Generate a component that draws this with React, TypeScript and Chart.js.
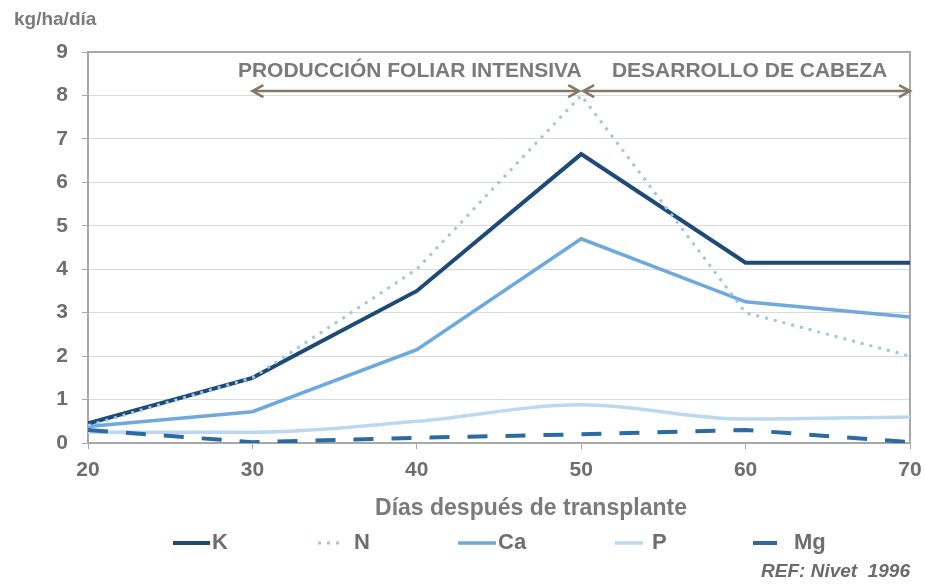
import React, { useEffect, useRef } from "react";
import { Chart, registerables } from "chart.js";

Chart.register(...registerables);

const days = [20, 30, 40, 50, 60, 70];
const kValues = [0.45, 1.5, 3.5, 6.65, 4.15, 4.15];
const nValues = [0.4, 1.5, 4.0, 8.0, 3.0, 2.0];
const caValues = [0.38, 0.72, 2.15, 4.7, 3.25, 2.9];
const pValues = [0.25, 0.25, 0.5, 0.88, 0.55, 0.6];
const mgValues = [0.3, 0.02, 0.12, 0.2, 0.3, 0.02];
const yTicks = [0, 1, 2, 3, 4, 5, 6, 7, 8, 9];
const seriesNames = ["K", "N", "Ca", "P", "Mg"];
const phases = [
  { label: "PRODUCCIÓN FOLIAR INTENSIVA", from: 30, to: 50 },
  { label: "DESARROLLO DE CABEZA", from: 50, to: 70 },
];
const yUnit = "kg/ha/día";
const xTitle = "Días después de transplante";
const refText = "REF: Nivet  1996";

const FONT = "'Liberation Sans', Arial, sans-serif";
const GREY = "#7a7a7a";

const toPts = (vals: number[]) => vals.map((v, i) => ({ x: days[i], y: v }));

const extrasPlugin = {
  id: "extras",
  beforeDatasetsDraw(chart: any) {
    const { ctx, chartArea: a } = chart;
    ctx.save();
    ctx.strokeStyle = "#a8a8a8";
    ctx.lineWidth = 2;
    ctx.strokeRect(a.left, a.top, a.right - a.left, a.bottom - a.top);
    ctx.restore();
  },
  afterDraw(chart: any) {
    const { ctx } = chart;
    const xs = chart.scales.x;
    const ys = chart.scales.y;
    ctx.save();
    // unit label
    ctx.fillStyle = GREY;
    ctx.font = `bold 19px ${FONT}`;
    ctx.textAlign = "left";
    ctx.textBaseline = "middle";
    ctx.fillText(yUnit, 14, 20);

    // phase annotations
    const arrowY = ys.getPixelForValue(8.1);
    const textY = ys.getPixelForValue(8.56);
    phases.forEach((ph, idx) => {
      const x1 = xs.getPixelForValue(ph.from) + (idx === 1 ? 2 : 0);
      const x2 = xs.getPixelForValue(ph.to) - (idx === 0 ? 2 : 0);
      ctx.strokeStyle = "#857868";
      ctx.lineWidth = 2.5;
      ctx.beginPath();
      ctx.moveTo(x1 + 2, arrowY);
      ctx.lineTo(x2 - 2, arrowY);
      ctx.stroke();
      const head = (x: number, dir: number) => {
        ctx.beginPath();
        ctx.moveTo(x + dir * 11, arrowY - 6);
        ctx.lineTo(x, arrowY);
        ctx.lineTo(x + dir * 11, arrowY + 6);
        ctx.lineWidth = 2.5;
        ctx.stroke();
      };
      head(x1, 1);
      head(x2, -1);
      ctx.fillStyle = GREY;
      ctx.font = `bold 21px ${FONT}`;
      ctx.textAlign = "center";
      ctx.textBaseline = "middle";
      const cx = (x1 + x2) / 2 + (idx === 0 ? -6 : 3);
      ctx.fillText(ph.label, cx, textY);
    });

    // x title
    ctx.fillStyle = GREY;
    ctx.font = `bold 23px ${FONT}`;
    ctx.textAlign = "center";
    ctx.textBaseline = "middle";
    ctx.fillText(xTitle, 531, 509);

    // legend
    const legendPos = [
      { x: 173, w: 37, tx: 212 },
      { x: 318, w: 26, tx: 354 },
      { x: 458, w: 38, tx: 498 },
      { x: 615, w: 28, tx: 652 },
      { x: 753, w: 24, tx: 794 },
    ];
    const ly = 543;
    chart.data.datasets.forEach((ds: any, i: number) => {
      const p = legendPos[i];
      ctx.save();
      ctx.strokeStyle = ds.borderColor;
      ctx.lineWidth = ds.borderWidth;
      ctx.setLineDash(i === 4 ? [] : ds.borderDash || []);
      ctx.beginPath();
      ctx.moveTo(p.x, ly);
      ctx.lineTo(p.x + p.w, ly);
      ctx.stroke();
      ctx.restore();
      ctx.fillStyle = "#6e6e6e";
      ctx.font = `bold 22px ${FONT}`;
      ctx.textAlign = "left";
      ctx.textBaseline = "middle";
      ctx.fillText(seriesNames[i], p.tx, ly);
    });

    // reference
    ctx.fillStyle = "#6a6a6a";
    ctx.font = `italic bold 19px ${FONT}`;
    ctx.textAlign = "right";
    ctx.textBaseline = "middle";
    ctx.fillText(refText, 910, 572);
    ctx.restore();
  },
};

export default function App() {
  const ref = useRef<HTMLCanvasElement | null>(null);
  useEffect(() => {
    document.body.style.margin = "0";
    const canvas = ref.current!;
    const chart = new Chart(canvas, {
      type: "line",
      data: {
        datasets: [
          {
            label: seriesNames[0],
            data: toPts(kValues),
            borderColor: "#1d4a77",
            borderWidth: 4,
            pointRadius: 0,
            order: 2,
          },
          {
            label: seriesNames[1],
            data: toPts(nValues),
            borderColor: "#9fc5e8",
            borderWidth: 3,
            borderDash: [3, 6],
            pointRadius: 0,
            order: 1,
          },
          {
            label: seriesNames[2],
            data: toPts(caValues),
            borderColor: "#6ea9dd",
            borderWidth: 3.5,
            pointRadius: 0,
            order: 3,
          },
          {
            label: seriesNames[3],
            data: toPts(pValues),
            borderColor: "#bcd8f0",
            borderWidth: 3.5,
            pointRadius: 0,
            cubicInterpolationMode: "monotone",
            order: 4,
          },
          {
            label: seriesNames[4],
            data: toPts(mgValues),
            borderColor: "#2c6aa3",
            borderWidth: 4,
            borderDash: [20, 18],
            pointRadius: 0,
            order: 0,
          },
        ] as any,
      },
      options: {
        animation: false,
        responsive: false,
        maintainAspectRatio: false,
        layout: { padding: { top: 52, right: 15, left: 0, bottom: 0 } },
        plugins: {
          legend: { display: false },
          tooltip: { enabled: false },
          title: { display: false },
        },
        scales: {
          x: {
            type: "linear",
            min: 20,
            max: 70,
            afterFit: (s: any) => {
              s.height = 141;
              s.paddingLeft = 0;
              s.paddingRight = 0;
            },
            afterBuildTicks: (s: any) => {
              s.ticks = days.map((d) => ({ value: d }));
            },
            ticks: {
              color: "#6e6e6e",
              font: { family: FONT, size: 21, weight: "bold" },
              padding: 9,
              maxRotation: 0,
            },
            grid: {
              drawOnChartArea: false,
              drawTicks: true,
              tickLength: 6,
              color: "#a8a8a8",
            },
            border: { color: "#a8a8a8", width: 2 },
          },
          y: {
            min: 0,
            max: 9,
            afterFit: (s: any) => {
              s.width = 88;
              s.paddingTop = 0;
              s.paddingBottom = 0;
            },
            afterBuildTicks: (s: any) => {
              s.ticks = yTicks.map((v) => ({ value: v }));
            },
            ticks: {
              color: "#6e6e6e",
              font: { family: FONT, size: 21, weight: "bold" },
              padding: 14,
            },
            grid: {
              color: "#dadada",
              lineWidth: 1,
              drawTicks: true,
              tickLength: 6,
              tickColor: "#a8a8a8",
            },
            border: { color: "#a8a8a8", width: 2 },
          },
        },
      } as any,
      plugins: [extrasPlugin],
    });
    return () => chart.destroy();
  }, []);
  return (
    <div style={{ position: "absolute", left: 0, top: 0, width: 925, height: 584, background: "#fff" }}>
      <canvas ref={ref} width={925} height={584} style={{ width: 925, height: 584, display: "block" }} />
    </div>
  );
}
